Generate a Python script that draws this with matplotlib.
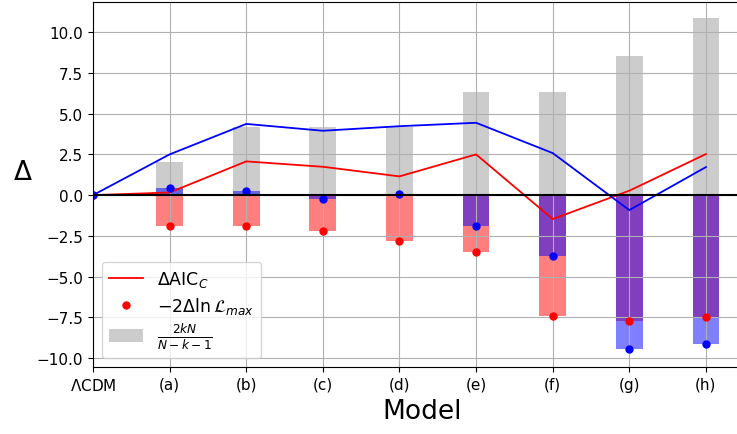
import matplotlib
matplotlib.use("Agg")
import matplotlib.pyplot as plt
import numpy as np

models = [r'$\Lambda$CDM', '(a)', '(b)', '(c)', '(d)', '(e)', '(f)', '(g)', '(h)']
penalty = [0.0, 2.02, 4.17, 4.17, 4.17, 6.33, 6.33, 8.55, 10.86]
lnL_red = [0.0, -1.92, -1.90, -2.23, -2.84, -3.50, -7.44, -7.71, -7.46]
aic_red = [0.0, 0.16, 2.07, 1.74, 1.15, 2.50, -1.47, 0.27, 2.52]
lnL_blue = [0.0, 0.41, 0.23, -0.23, 0.06, -1.88, -3.76, -9.47, -9.16]
aic_blue = [0.0, 2.50, 4.37, 3.95, 4.23, 4.44, 2.58, -0.92, 1.72]

x = np.arange(len(models))
w = 0.35

fig = plt.figure(figsize=(7.37, 4.35), dpi=100)
ax = fig.add_axes([0.1262, 0.154, 0.894, 0.839])

ax.bar(x, penalty, width=w, color='gray', alpha=0.4, label=r'$\frac{2kN}{N-k-1}$')
ax.bar(x, lnL_red, width=w, color='red', alpha=0.5)
ax.bar(x, lnL_blue, width=w, color='blue', alpha=0.5)

ax.plot(x, aic_red, color='red', lw=1.3, label=r'$\Delta$AIC$_C$')
ax.plot(x, aic_blue, color='blue', lw=1.3)
ax.plot(x, lnL_red, 'o', color='red', ms=5, label=r'$-2\Delta\ln\mathcal{L}_{max}$')
ax.plot(x, lnL_blue, 'o', color='blue', ms=5)

ax.axhline(0, color='k', lw=1.5)
ax.grid(True)
ax.set_xticks(x)
ax.set_xticklabels(models, fontsize=11)
ax.tick_params(axis='y', labelsize=11)
ax.set_xlim(0, 8.6)
ax.set_ylim(-10.55, 11.85)
ax.set_xlabel('Model', fontsize=19)
ax.set_ylabel(r'$\Delta$', fontsize=19, rotation=0, labelpad=10)

ax.legend(loc='lower left', fontsize=12.5, labelspacing=0.35)

plt.savefig('out.png', dpi=100)
